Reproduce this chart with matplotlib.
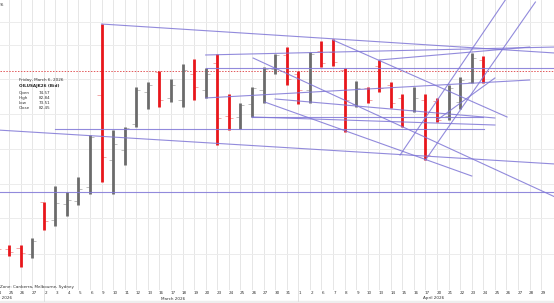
import matplotlib
matplotlib.use('Agg')
import matplotlib.pyplot as plt
import numpy as np

# trading days shown on the axis (index = bar slot)
day_labels = ['24', '25', '26', '27', '2', '3', '4', '5', '6', '9', '10', '11', '12', '13',
              '16', '17', '18', '19', '20', '23', '24', '25', '26', '27', '30', '31',
              '1', '2', '6', '7', '8', '9', '10', '13', '14', '15', '16', '17',
              '20', '21', '22', '23', '24', '25', '26', '27', '28', '29']

# OHLC bars, Feb 24 .. Apr 24
opens  = [66.07, 64.80, 64.96, 64.01, 72.24, 69.39, 71.92, 72.40, 74.57, 89.17, 78.88, 80.47,
          84.58, 89.64, 92.81, 88.70, 88.38, 92.49, 89.96, 94.23, 85.85, 85.69, 87.74, 89.96,
          93.28, 95.50, 92.49, 89.96, 96.13, 95.97, 93.12, 87.74, 90.28, 93.76, 90.75, 88.70,
          86.79, 88.38, 88.22, 85.85, 88.06, 91.23, 94.71]
highs  = [66.54, 65.44, 65.44, 66.54, 72.30, 74.77, 73.82, 76.19, 82.84, 100.40, 83.63, 84.10,
          90.43, 91.23, 92.97, 91.70, 94.07, 94.86, 93.44, 95.66, 89.33, 87.90, 90.43, 93.60,
          95.66, 96.76, 92.97, 95.97, 97.71, 98.03, 93.44, 91.38, 90.43, 94.71, 91.23, 89.33,
          90.43, 89.33, 88.70, 90.75, 92.02, 95.81, 95.34]
lows   = [63.69, 63.69, 61.95, 63.38, 67.81, 68.44, 70.02, 71.76, 73.51, 75.40, 73.51, 78.09,
          84.10, 86.95, 87.27, 88.06, 87.27, 88.38, 88.70, 81.26, 83.63, 83.79, 85.69, 87.90,
          92.49, 90.75, 87.74, 87.90, 93.60, 93.76, 83.31, 87.27, 87.90, 89.64, 87.11, 84.10,
          86.48, 78.88, 84.90, 85.21, 86.95, 91.07, 91.07]
closes = [64.80, 64.33, 64.17, 66.07, 69.23, 72.08, 72.55, 74.30, 82.45, 79.36, 81.42, 83.95,
          89.96, 90.75, 88.38, 90.75, 93.12, 90.43, 92.49, 85.53, 85.53, 87.59, 90.28, 93.28,
          95.50, 91.70, 89.96, 95.66, 94.23, 94.39, 88.38, 90.28, 88.38, 90.28, 87.90, 85.69,
          88.70, 79.67, 85.21, 90.28, 91.54, 95.02, 92.97]

# trend lines: start slot, start price, end slot, end price
line_x0 = [9.0, 0.0, 5.0, 0.0, 18.0, 18.0, 22.1, 18.0, 22.0, 29.0, 34.8, 37.0, 38.0, 23.1,
           22.0, 24.0, 33.0]
line_p0 = [100.40, 83.63, 83.79, 73.82, 95.50, 93.44, 95.02, 88.70, 85.69, 97.87, 79.67, 78.88,
           85.21, 88.06, 85.69, 88.54, 94.71]
line_x1 = [48.2, 48.2, 42.1, 48.2, 48.2, 48.2, 48.2, 46.0, 42.0, 44.05, 43.9, 46.5, 43.0, 41.0,
           43.0, 43.0, 46.0]
line_p1 = [95.81, 78.25, 83.79, 73.82, 96.76, 93.44, 73.03, 91.54, 85.69, 85.69, 104.2, 103.88,
           91.86, 76.35, 84.42, 85.53, 96.76]

grid_prices = [100.72, 97.08, 91.70, 86.16, 80.62, 75.09, 69.71, 64.01]

W, H = 554, 303
fig = plt.figure(figsize=(W / 100, H / 100), dpi=100)
ax = fig.add_axes([0, 13 / H, 1, 290 / H])
x0px, step = -2.6, 11.57
ax.set_xlim((0 - x0px) / step, (W - x0px) / step)
ax.set_ylim(104.20 - 290 * 0.15823, 104.20)
for s in ax.spines.values():
    s.set_visible(False)
ax.set_xticks([])
ax.set_yticks([])

for i in range(len(day_labels)):
    ax.axvline(i, color='#e6e6e6', lw=0.7, zorder=0)
for g in grid_prices:
    ax.axhline(g, color='#ececec', lw=0.7, zorder=0)

for i in range(len(opens)):
    up = closes[i] >= opens[i]
    col = '#6b6b6b' if up else '#e8161b'
    tcol = '#b4b4b4' if up else '#f29a9a'
    ax.vlines(i, lows[i], highs[i], color=col, lw=2.0, zorder=3)
    ax.hlines(opens[i], i - 0.35, i - 0.08, color=tcol, lw=0.6, zorder=2)
    ax.hlines(closes[i], i + 0.08, i + 0.35, color=tcol, lw=0.6, zorder=2)

for a, b, c, d in zip(line_x0, line_p0, line_x1, line_p1):
    ax.plot([a, c], [b, d], color='#7f76d6', lw=0.8, alpha=0.85, zorder=4)

ax.axhline(closes[-1], color='#e2585a', lw=0.7, ls=(0, (1.5, 1.5)), zorder=1)

# info box
fs = 3.0
fig.text(19 / W, 1 - 80 / H, 'Friday, March 6, 2026', fontsize=fs, va='center', color='#333333')
fig.text(19 / W, 1 - 86 / H, 'OILUSAJK26 (Bid)', fontsize=fs, va='center', weight='bold', color='#222222')
names = ['Open', 'High', 'Low', 'Close']
vals = [opens[8], highs[8], lows[8], closes[8]]
for k, (n, v) in enumerate(zip(names, vals)):
    yy = 1 - (93 + 5 * k) / H
    fig.text(19 / W, yy, n, fontsize=fs, va='center', color='#333333')
    fig.text(50 / W, yy, '%.2f' % v, fontsize=fs, va='center', ha='right', color='#333333')

fig.text(4 / W, 1 - 5 / H, '2026', fontsize=fs, va='center', ha='right', color='#333333')

# x axis labels
for i, lab in enumerate(day_labels):
    px = x0px + step * i + 2
    fig.text(px / W, 1 - 293 / H, lab, fontsize=fs, ha='center', va='center', color='#333333')
fig.text(0, 1 - 287 / H, 'Zone: Canberra, Melbourne, Sydney', fontsize=fs, va='center', color='#333333')
fig.text(12 / W, 1 - 298.5 / H, 'February 2026', fontsize=fs, va='center', ha='right', color='#333333')
fig.text(161 / W, 1 - 298.5 / H, 'March 2026', fontsize=fs, va='center', color='#333333')
fig.text(423 / W, 1 - 298.5 / H, 'April 2026', fontsize=fs, va='center', color='#333333')
for sep in [4, 26]:
    px = x0px + step * sep
    fig.add_artist(plt.Line2D([px / W, px / W], [2.5 / H, 13 / H], color='#dddddd', lw=0.6))
fig.patches.append(plt.Rectangle((0, 0), 1, 2.5 / H, transform=fig.transFigure, color='#eeeeee'))

fig.savefig('out.png', dpi=100)
